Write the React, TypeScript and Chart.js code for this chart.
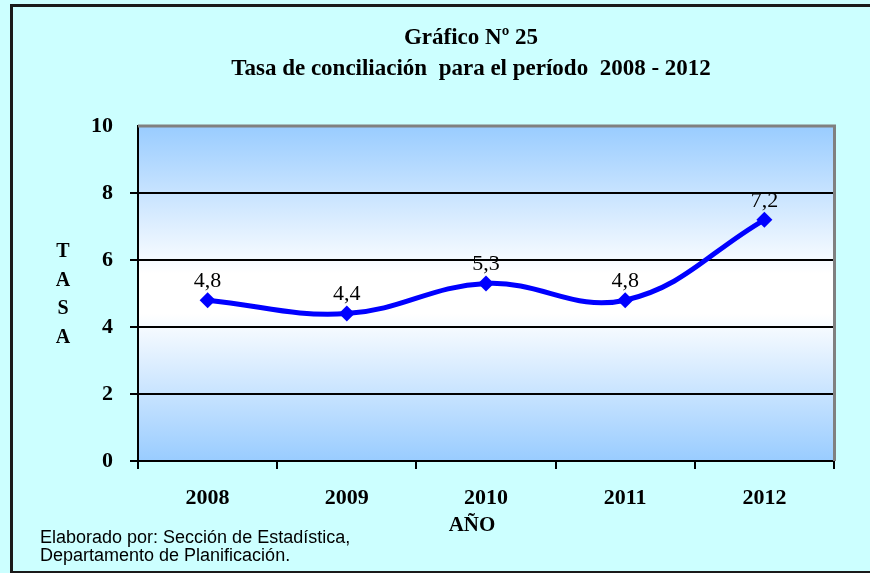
import React, { useEffect, useRef } from "react";
import { Chart, registerables } from "chart.js";

Chart.register(...registerables);

const categories = ["2008", "2009", "2010", "2011", "2012"];
const tasaValues = [4.8, 4.4, 5.3, 4.8, 7.2];
const valueLabels = ["4,8", "4,4", "5,3", "4,8", "7,2"];
const titleLines = ["Gráfico Nº 25", "Tasa de conciliación  para el período  2008 - 2012"];
const yTitleLetters = ["T", "A", "S", "A"];
const xTitle = "AÑO";
const footLines = ["Elaborado por: Sección de Estadística,", "Departamento de Planificación."];

const SERIF = "'Liberation Serif', 'Times New Roman', serif";
const SANS = "'Liberation Sans', Arial, sans-serif";

const decorPlugin = {
  id: "decor",
  beforeDraw(chart: any) {
    const { ctx, width, height, chartArea } = chart;
    ctx.save();
    ctx.fillStyle = "#CCFFFF";
    ctx.fillRect(0, 0, width, height);
    // outer frame
    ctx.strokeStyle = "#1a1a1a";
    ctx.lineWidth = 3;
    ctx.strokeRect(11.5, 5.5, width + 40, height - 6);
    // plot gradient
    const g = ctx.createLinearGradient(0, chartArea.top, 0, chartArea.bottom);
    g.addColorStop(0, "#99CCFF");
    g.addColorStop(0.44, "#FFFFFF");
    g.addColorStop(0.56, "#FFFFFF");
    g.addColorStop(1, "#99CCFF");
    ctx.fillStyle = g;
    ctx.fillRect(chartArea.left, chartArea.top, chartArea.right - chartArea.left, chartArea.bottom - chartArea.top);
    // titles
    ctx.fillStyle = "#000";
    ctx.textAlign = "center";
    ctx.textBaseline = "middle";
    ctx.font = `bold 23px ${SERIF}`;
    ctx.fillText(titleLines[0], 471, 38);
    ctx.fillText(titleLines[1], 471, 69);
    // y title letters
    ctx.font = `bold 20px ${SERIF}`;
    yTitleLetters.forEach((l, i) => ctx.fillText(l, 63, 252 + i * 28.5));
    // x title
    ctx.font = `bold 21px ${SERIF}`;
    ctx.fillText(xTitle, 472, 526);
    // footnote
    ctx.textAlign = "left";
    ctx.font = `18px ${SANS}`;
    ctx.fillText(footLines[0], 40, 538);
    ctx.fillText(footLines[1], 40, 556);
    ctx.restore();
  },
  beforeDatasetsDraw(chart: any) {
    const { ctx, chartArea } = chart;
    ctx.save();
    ctx.strokeStyle = "#808080";
    ctx.lineWidth = 3;
    ctx.beginPath();
    ctx.moveTo(chartArea.left, chartArea.top);
    ctx.lineTo(chartArea.right + 0.5, chartArea.top);
    ctx.lineTo(chartArea.right + 0.5, chartArea.bottom);
    ctx.stroke();
    ctx.restore();
  },
  afterDatasetsDraw(chart: any) {
    const { ctx } = chart;
    const meta = chart.getDatasetMeta(0);
    ctx.save();
    ctx.fillStyle = "#000";
    ctx.textAlign = "center";
    ctx.textBaseline = "middle";
    ctx.font = `22px ${SERIF}`;
    meta.data.forEach((pt: any, i: number) => {
      ctx.fillText(valueLabels[i], pt.x, pt.y - 19);
    });
    ctx.restore();
  },
};

export default function App() {
  const ref = useRef<HTMLCanvasElement | null>(null);
  useEffect(() => {
    if (!ref.current) return;
    const chart = new Chart(ref.current, {
      type: "line",
      data: {
        labels: categories,
        datasets: [
          {
            data: tasaValues,
            borderColor: "#0000FF",
            backgroundColor: "#0000FF",
            borderWidth: 5,
            tension: 0.4,
            pointStyle: "rectRot",
            pointRadius: 8,
            pointBorderWidth: 0,
            clip: false as any,
          },
        ],
      },
      options: {
        animation: false,
        responsive: false,
        devicePixelRatio: 1,
        layout: { padding: { left: 0, top: 126, right: 36, bottom: 0 } },
        plugins: { legend: { display: false }, tooltip: { enabled: false }, title: { display: false } },
        scales: {
          x: {
            type: "category",
            offset: true,
            afterFit: (s: any) => {
              s.height = 112;
            },
            border: { display: true, color: "#000", width: 2 },
            grid: {
              offset: true,
              drawOnChartArea: false,
              drawTicks: true,
              tickLength: 8,
              color: "#000",
              lineWidth: 2,
            },
            ticks: {
              color: "#000",
              font: { family: SERIF, size: 22, weight: "bold" },
              padding: 16,
            },
          },
          y: {
            min: 0,
            max: 10,
            afterFit: (s: any) => {
              s.width = 138;
            },
            border: { display: true, color: "#000", width: 2 },
            grid: {
              color: (c: any) => (c.tick && c.tick.value === 10 ? "rgba(0,0,0,0)" : "#000"),
              lineWidth: 2,
              tickLength: 8,
              drawTicks: true,
            },
            ticks: {
              stepSize: 2,
              color: "#000",
              font: { family: SERIF, size: 22, weight: "bold" },
              padding: 17,
            },
          },
        },
      },
      plugins: [decorPlugin],
    });
    return () => chart.destroy();
  }, []);
  return (
    <div style={{ position: "absolute", left: 0, top: 0, width: 870, height: 573 }}>
      <canvas ref={ref} width={870} height={573} style={{ width: 870, height: 573, display: "block" }} />
    </div>
  );
}
